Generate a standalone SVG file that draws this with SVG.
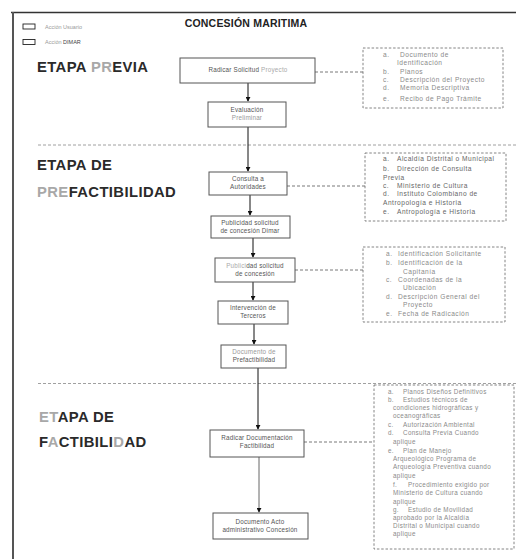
<svg xmlns="http://www.w3.org/2000/svg" width="516" height="559" viewBox="0 0 516 559">
<defs>
<marker id="ah" viewBox="0 0 6 6" refX="5" refY="3" markerWidth="5" markerHeight="5" orient="auto">
<path d="M0,0 L6,3 L0,6 z" fill="#111"/>
</marker>
<style>
.node rect{fill:#fff;stroke:#555;stroke-width:1}
.nt{font-family:"Liberation Sans",Arial,sans-serif;font-size:6.3px;fill:#555;text-anchor:middle;letter-spacing:0.2px}
.lt{font-family:"Liberation Sans",Arial,sans-serif;font-size:6.6px;fill:#8a8a8a;letter-spacing:0.5px}
.lst rect{fill:none;stroke:#666;stroke-width:0.8;stroke-dasharray:2.5,1.8}
.stg{font-family:"Liberation Sans",Arial,sans-serif;font-size:14.8px;font-weight:bold;fill:#2a2a2a;letter-spacing:0.4px}
.lite{fill:#a8a8a8}
.sep{stroke:#888;stroke-width:0.8;stroke-dasharray:3,2;fill:none}
.con line,.con path{stroke:#111;stroke-width:1;fill:none}
.con .dash{stroke:#555;stroke-width:0.8;stroke-dasharray:3,2}
.con .grey{stroke:#666}
</style>
</defs>
<rect x="0" y="0" width="516" height="559" fill="#fff"/>
<line x1="11" y1="12.5" x2="516" y2="12.5" stroke="#333" stroke-width="1.3"/>
<line x1="13" y1="12" x2="13" y2="559" stroke="#555" stroke-width="2"/>
<g id="legend">
<rect x="23" y="24" width="12" height="5" fill="none" stroke="#222" stroke-width="0.9"/>
<text x="45" y="29" font-family="Liberation Sans,Arial,sans-serif" font-size="5.5" fill="#999">Acción Usuario</text>
<rect x="23" y="39.5" width="12" height="5" fill="none" stroke="#222" stroke-width="0.9"/>
<text x="45" y="44" font-family="Liberation Sans,Arial,sans-serif" font-size="5.5" fill="#999">Acción <tspan fill="#444">DIMAR</tspan></text>
</g>
<text x="246" y="27" text-anchor="middle" font-family="Liberation Sans,Arial,sans-serif" font-size="10.5" font-weight="bold" fill="#222" letter-spacing="0.2">CONCESIÓN MARITIMA</text>
<text class="stg" x="37" y="72">ETAPA <tspan class="lite">PR</tspan>EVIA</text>
<text class="stg" x="37" y="170">ETAPA DE</text>
<text class="stg" x="37" y="197"><tspan class="lite">PRE</tspan>FACTIBILIDAD</text>
<text class="stg" x="39" y="422"><tspan class="lite">ET</tspan>APA DE</text>
<text class="stg" x="39" y="447">F<tspan class="lite">A</tspan>CTIBILI<tspan class="lite">D</tspan>AD</text>
<line class="sep" x1="38" y1="145" x2="516" y2="145"/>
<line class="sep" x1="38" y1="383.5" x2="516" y2="383.5"/>
<g id="connectors" class="con">
<line x1="248" y1="83" x2="248" y2="101" marker-end="url(#ah)"/>
<line x1="248" y1="127" x2="248" y2="171" marker-end="url(#ah)"/>
<line x1="250" y1="195" x2="250" y2="215" marker-end="url(#ah)"/>
<line x1="253" y1="238" x2="253" y2="257" marker-end="url(#ah)"/>
<line x1="253" y1="282" x2="253" y2="300" marker-end="url(#ah)"/>
<line x1="254" y1="324" x2="254" y2="344" marker-end="url(#ah)"/>
<line x1="258" y1="368" x2="258" y2="429" marker-end="url(#ah)"/>
<line class="grey" x1="259" y1="457" x2="259" y2="512" marker-end="url(#ah)"/>
<line class="dash" x1="315" y1="72" x2="363" y2="72"/>
<line class="dash" x1="287" y1="186" x2="365" y2="186"/>
<line class="dash" x1="295" y1="270" x2="363" y2="270"/>
<line class="dash" x1="304" y1="442" x2="374" y2="442"/>
</g>
<g id="n1" class="node"><rect x="180" y="58" width="135" height="25"/><text class="nt" x="248" y="72">Radicar Solicitud <tspan fill="#aaa">Proyecto</tspan></text></g>
<g id="n2" class="node"><rect x="208" y="102" width="78" height="25"/><text class="nt" x="247" y="112">Evaluación</text><text class="nt" x="247" y="120" style="fill:#999">Preliminar</text></g>
<g id="n3" class="node"><rect x="209" y="172" width="78" height="23"/><text class="nt" x="248" y="181">Consulta a</text><text class="nt" x="248" y="189">Autoridades</text></g>
<g id="n4" class="node"><rect x="211" y="216" width="79" height="22"/><text class="nt" x="250" y="225">Publicidad solicitud</text><text class="nt" x="250" y="233">de concesión Dimar</text></g>
<g id="n5" class="node"><rect x="215" y="258" width="80" height="24"/><text class="nt" x="255" y="268"><tspan fill="#aaa">Publici</tspan>dad solicitud</text><text class="nt" x="255" y="276">de concesión</text></g>
<g id="n6" class="node"><rect x="218" y="301" width="70" height="23"/><text class="nt" x="253" y="310">Intervención de</text><text class="nt" x="253" y="318">Terceros</text></g>
<g id="n7" class="node"><rect x="221" y="345" width="65" height="23"/><text class="nt" x="254" y="354" style="fill:#999">Documento de</text><text class="nt" x="254" y="362">Prefactibilidad</text></g>
<g id="n8" class="node"><rect x="210" y="430" width="94" height="27"/><text class="nt" x="257" y="440">Radicar Documentación</text><text class="nt" x="257" y="448">Factibilidad</text></g>
<g id="n9" class="node"><rect x="213" y="513" width="95" height="26"/><text class="nt" x="260" y="524">Documento Acto</text><text class="nt" x="260" y="532">administrativo Concesión</text></g>
<g id="list1" class="lst"><rect x="363" y="48" width="140" height="60"/>
<text class="lt"><tspan x="383" y="57">a.</tspan><tspan x="400" y="57">Documento de</tspan><tspan x="397" y="65">Identificación</tspan><tspan x="383" y="74">b.</tspan><tspan x="400" y="74">Planos</tspan><tspan x="383" y="82">c.</tspan><tspan x="400" y="82">Descripción del Proyecto</tspan><tspan x="383" y="90">d.</tspan><tspan x="400" y="90">Memoria Descriptiva</tspan><tspan x="383" y="101">e.</tspan><tspan x="400" y="101">Recibo de Pago Trámite</tspan></text></g>
<g id="list2" class="lst"><rect x="365" y="153" width="141" height="68"/>
<text class="lt" style="fill:#666"><tspan x="383" y="161">a.</tspan><tspan x="397" y="161">Alcaldía Distrital o Municipal</tspan><tspan x="383" y="171">b.</tspan><tspan x="397" y="171">Dirección de Consulta</tspan><tspan x="383" y="180">Previa</tspan><tspan x="383" y="188">c.</tspan><tspan x="397" y="188">Ministerio de Cultura</tspan><tspan x="383" y="196">d.</tspan><tspan x="397" y="196">Instituto Colombiano de</tspan><tspan x="383" y="205">Antropología e Historia</tspan><tspan x="383" y="214">e.</tspan><tspan x="397" y="214">Antropología e Historia</tspan></text></g>
<g id="list3" class="lst"><rect x="363" y="247" width="142" height="75"/>
<text class="lt"><tspan x="386" y="256">a.</tspan><tspan x="398" y="256">Identificación Solicitante</tspan><tspan x="386" y="265">b.</tspan><tspan x="398" y="265">Identificación de la</tspan><tspan x="403" y="274">Capitanía</tspan><tspan x="386" y="282">c.</tspan><tspan x="398" y="282">Coordenadas de la</tspan><tspan x="403" y="290">Ubicación</tspan><tspan x="386" y="299">d.</tspan><tspan x="398" y="299">Descripción General del</tspan><tspan x="403" y="307">Proyecto</tspan><tspan x="386" y="316">e.</tspan><tspan x="398" y="316">Fecha de Radicación</tspan></text></g>
<g id="list4" class="lst"><rect x="374" y="385" width="140" height="164"/>
<text class="lt" style="font-size:6.3px;letter-spacing:0.35px"><tspan x="388" y="394">a.</tspan><tspan x="403" y="394">Planos Diseños Definitivos</tspan><tspan x="388" y="402">b.</tspan><tspan x="403" y="402">Estudios técnicos de</tspan><tspan x="393" y="410">condiciones hidrográficas y</tspan><tspan x="393" y="418">oceanográficas</tspan><tspan x="388" y="427">c.</tspan><tspan x="403" y="427">Autorización Ambiental</tspan><tspan x="388" y="435">d.</tspan><tspan x="403" y="435">Consulta Previa Cuando</tspan><tspan x="393" y="444">aplique</tspan><tspan x="388" y="453">e.</tspan><tspan x="403" y="453">Plan de Manejo</tspan><tspan x="393" y="461">Arqueológico Programa de</tspan><tspan x="393" y="469">Arqueología Preventiva cuando</tspan><tspan x="393" y="478">aplique</tspan><tspan x="393" y="487">f.</tspan><tspan x="408" y="487">Procedimiento exigido por</tspan><tspan x="393" y="495">Ministerio de Cultura cuando</tspan><tspan x="393" y="504">aplique</tspan><tspan x="393" y="512">g.</tspan><tspan x="408" y="512">Estudio de Movilidad</tspan><tspan x="393" y="520">aprobado por la Alcaldía</tspan><tspan x="393" y="528">Distrital o Municipal cuando</tspan><tspan x="393" y="536">aplique</tspan></text></g>
</svg>
